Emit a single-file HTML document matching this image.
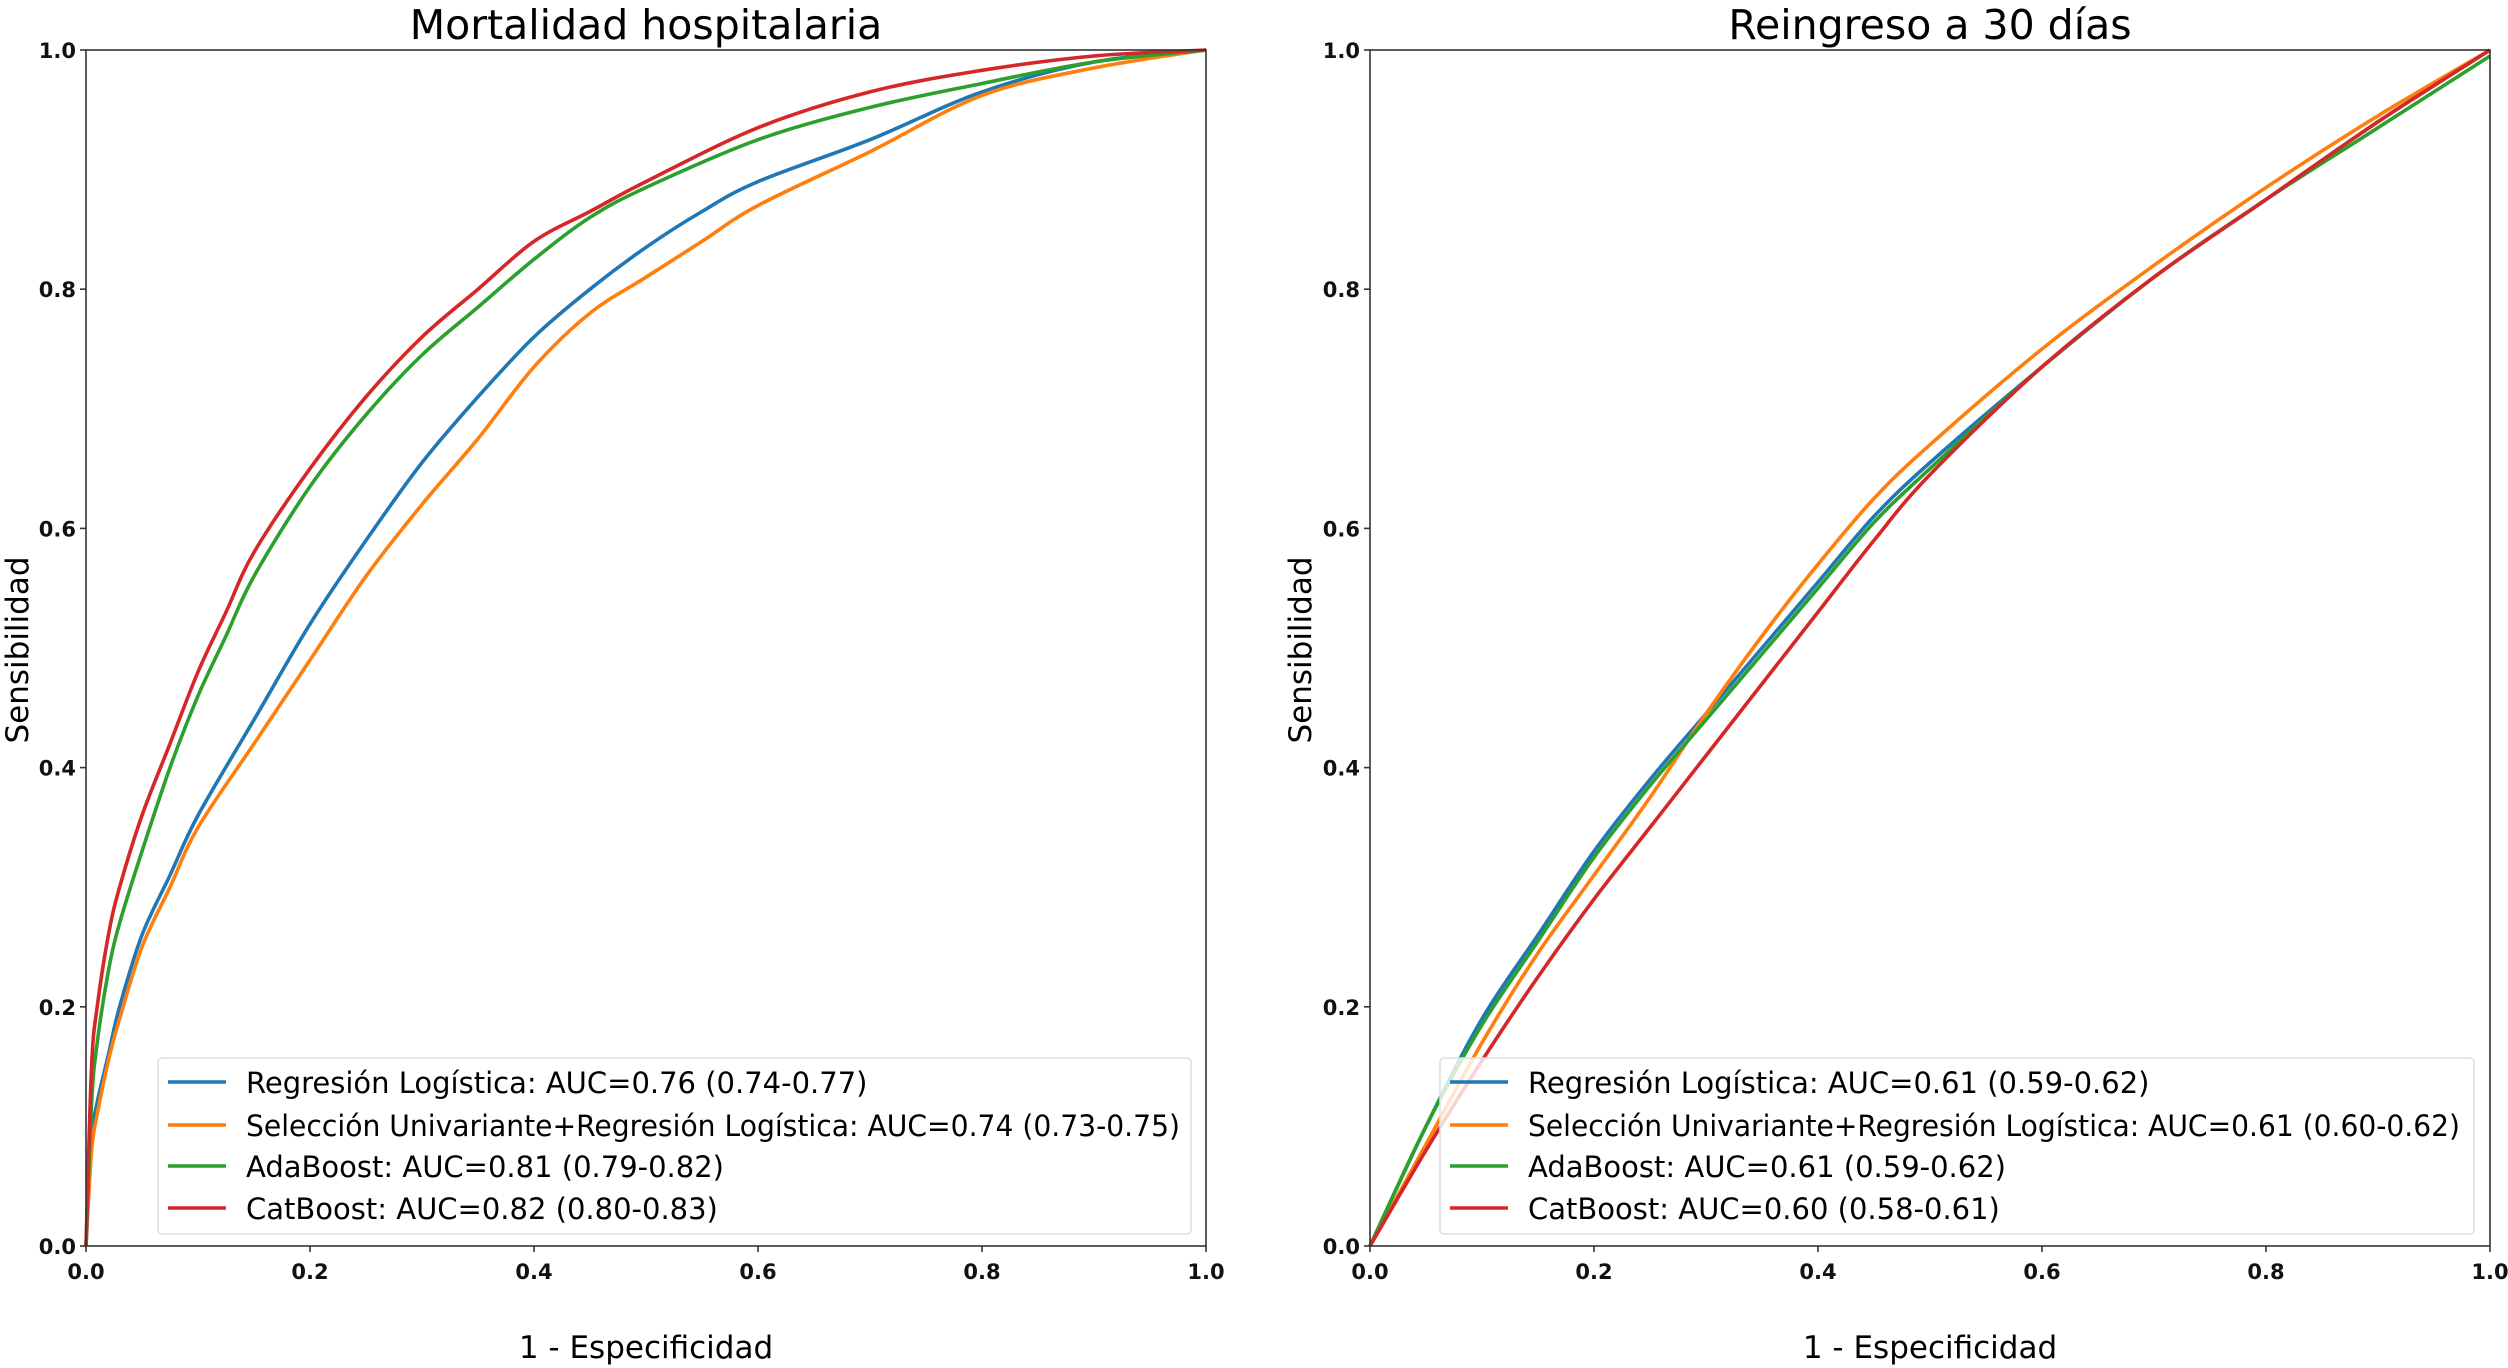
<!DOCTYPE html>
<html><head><meta charset="utf-8"><style>
html,body{margin:0;padding:0;background:#fff;}
svg{display:block;font-family:"DejaVu Sans","Liberation Sans",sans-serif;}
</style></head><body>
<svg id="chart" width="2508" height="1368" viewBox="0 0 2508 1368" xmlns="http://www.w3.org/2000/svg"></svg>
<script>
const ticks = [0, 0.2, 0.4, 0.6, 0.8, 1.0];
const tickLabels = ["0.0", "0.2", "0.4", "0.6", "0.8", "1.0"];
const seriesNames = ["Regresión Logística", "Selección Univariante+Regresión Logística", "AdaBoost", "CatBoost"];
const colors = ["#1f77b4", "#ff7f0e", "#2ca02c", "#d62728"];

const mortLabels = ["Regresión Logística: AUC=0.76 (0.74-0.77)", "Selección Univariante+Regresión Logística: AUC=0.74 (0.73-0.75)", "AdaBoost: AUC=0.81 (0.79-0.82)", "CatBoost: AUC=0.82 (0.80-0.83)"];
const mortBlueX = [0,0.005,0.01,0.02,0.03,0.05,0.075,0.1,0.15,0.2,0.25,0.3,0.35,0.4,0.45,0.5,0.55,0.6,0.7,0.8,0.9,1];
const mortBlueY = [0,0.09,0.12,0.16,0.2,0.26,0.31,0.36,0.44,0.52,0.59,0.655,0.71,0.76,0.8,0.835,0.865,0.89,0.925,0.965,0.99,1];
const mortOrangeX = [0,0.005,0.01,0.02,0.03,0.05,0.075,0.1,0.15,0.2,0.25,0.3,0.35,0.4,0.45,0.5,0.55,0.6,0.7,0.8,0.9,1];
const mortOrangeY = [0,0.08,0.11,0.155,0.19,0.25,0.3,0.35,0.42,0.49,0.56,0.62,0.675,0.735,0.78,0.81,0.84,0.87,0.915,0.962,0.985,1];
const mortGreenX = [0,0.005,0.01,0.02,0.03,0.05,0.075,0.1,0.125,0.15,0.2,0.25,0.3,0.35,0.4,0.45,0.5,0.6,0.7,0.8,0.9,1];
const mortGreenY = [0,0.12,0.17,0.23,0.27,0.33,0.4,0.46,0.51,0.56,0.635,0.695,0.745,0.785,0.825,0.86,0.885,0.925,0.952,0.972,0.99,1];
const mortRedX = [0,0.005,0.01,0.02,0.03,0.05,0.075,0.1,0.125,0.15,0.2,0.25,0.3,0.35,0.4,0.45,0.5,0.6,0.7,0.8,0.9,1];
const mortRedY = [0,0.15,0.2,0.26,0.3,0.36,0.42,0.48,0.53,0.58,0.65,0.71,0.76,0.8,0.84,0.865,0.89,0.935,0.965,0.983,0.995,1];

const readLabels = ["Regresión Logística: AUC=0.61 (0.59-0.62)", "Selección Univariante+Regresión Logística: AUC=0.61 (0.60-0.62)", "AdaBoost: AUC=0.61 (0.59-0.62)", "CatBoost: AUC=0.60 (0.58-0.61)"];
const readX = [0,0.05,0.1,0.15,0.2,0.25,0.3,0.35,0.4,0.45,0.5,0.6,0.7,0.8,0.9,1];
const readBlueY = [0,0.1,0.19,0.26,0.33,0.39,0.445,0.5,0.555,0.61,0.655,0.735,0.81,0.875,0.94,1];
const readOrangeY = [0,0.085,0.17,0.245,0.31,0.375,0.445,0.51,0.57,0.625,0.67,0.75,0.82,0.885,0.945,1];
const readGreenY = [0,0.1,0.185,0.255,0.325,0.385,0.44,0.495,0.55,0.605,0.65,0.735,0.81,0.875,0.935,0.995];
const readRedY = [0,0.08,0.155,0.225,0.29,0.35,0.41,0.47,0.53,0.59,0.645,0.735,0.81,0.875,0.94,1];

const NS = "http://www.w3.org/2000/svg";
const svg = document.getElementById("chart");
function mk(tag, attrs, parent, text) {
  const e = document.createElementNS(NS, tag);
  for (const k in attrs) e.setAttribute(k, attrs[k]);
  if (text !== undefined) e.textContent = text;
  parent.appendChild(e);
  return e;
}
// smooth path via Catmull-Rom
function smoothPath(pts) {
  let d = "M" + pts[0][0].toFixed(1) + " " + pts[0][1].toFixed(1);
  for (let i = 0; i < pts.length - 1; i++) {
    const p0 = pts[Math.max(0, i - 1)], p1 = pts[i], p2 = pts[i + 1], p3 = pts[Math.min(pts.length - 1, i + 2)];
    const c1x = p1[0] + (p2[0] - p0[0]) / 6, c1y = p1[1] + (p2[1] - p0[1]) / 6;
    const c2x = p2[0] - (p3[0] - p1[0]) / 6, c2y = p2[1] - (p3[1] - p1[1]) / 6;
    d += " C" + c1x.toFixed(1) + " " + c1y.toFixed(1) + " " + c2x.toFixed(1) + " " + c2y.toFixed(1) + " " + p2[0].toFixed(1) + " " + p2[1].toFixed(1);
  }
  return d;
}

function panel(cfg) {
  const g = mk("g", {}, svg);
  
  
  const L = cfg.left, R = cfg.right, T = 50, B = 1246;
  const sx = v => L + v * (R - L);
  const sy = v => B - v * (B - T);
  cfg.series.forEach((s, i) => {
    const pts = s.x.map((xv, j) => [sx(xv), sy(s.y[j])]);
    const p = mk("path", {d: smoothPath(pts), fill: "none", stroke: colors[i], "stroke-width": 3.6, "stroke-linejoin": "round"}, g);
    
    
  });
  const fr = mk("rect", {x: L, y: T, width: R - L, height: B - T, fill: "none", stroke: "#333", "stroke-width": 1.6}, g);
  
  
  ticks.forEach((t, i) => {
    mk("line", {x1: sx(t), x2: sx(t), y1: B, y2: B + 6, stroke: "#333", "stroke-width": 1.6}, g);
    const xl = mk("text", {x: sx(t), y: B + 33, "font-size": 21, "font-weight": "bold", "text-anchor": "middle", fill: "#111"}, g, tickLabels[i]);
    
    
    mk("line", {x1: L - 6, x2: L, y1: sy(t), y2: sy(t), stroke: "#333", "stroke-width": 1.6}, g);
    const yl = mk("text", {x: L - 10, y: sy(t) + 8, "font-size": 21, "font-weight": "bold", "text-anchor": "end", fill: "#111"}, g, tickLabels[i]);
    
    
  });
  const tt = mk("text", {x: (L + R) / 2, y: 39, "font-size": 41, "text-anchor": "middle", fill: "#000"}, g, cfg.title);
  
  
  const xt = mk("text", {x: (L + R) / 2, y: 1358, "font-size": 31, "text-anchor": "middle", fill: "#000"}, g, "1 - Especificidad");
  
  
  const yt = mk("text", {x: 0, y: 0, "font-size": 31, "text-anchor": "middle", fill: "#000", transform: "translate(" + (cfg.ylabX) + ",650) rotate(-90)"}, g, "Sensibilidad");
  
  
  const lg = mk("g", {}, g);
  
  
  mk("rect", {x: cfg.lgX, y: 1058, width: cfg.lgW, height: 176, rx: 4, fill: "#fff", "fill-opacity": 0.8, stroke: "#ddd", "stroke-width": 1.5}, lg);
  const rowY = [1082, 1125, 1166, 1208];
  cfg.labels.forEach((lab, i) => {
    const e = mk("g", {}, lg);
    
    
    mk("line", {x1: cfg.lgX + 10, x2: cfg.lgX + 68, y1: rowY[i], y2: rowY[i], stroke: colors[i], "stroke-width": 3.6}, e);
    const attrs = {x: cfg.lgX + 88, y: rowY[i] + 11, "font-size": 29, fill: "#000"};
    if (i === 1) { attrs.textLength = cfg.longW; attrs.lengthAdjust = "spacingAndGlyphs"; }
    mk("text", attrs, e, lab);
  });
}

panel({name: "mortalidad-panel", left: 86, right: 1206, title: "Mortalidad hospitalaria", ylabX: 28, lgX: 158, lgW: 1033, longW: 934, labels: mortLabels,
  series: [{x: mortBlueX, y: mortBlueY}, {x: mortOrangeX, y: mortOrangeY}, {x: mortGreenX, y: mortGreenY}, {x: mortRedX, y: mortRedY}]});
panel({name: "reingreso-panel", left: 1370, right: 2490, title: "Reingreso a 30 días", ylabX: 1311, lgX: 1440, lgW: 1034, longW: 932, labels: readLabels,
  series: [{x: readX, y: readBlueY}, {x: readX, y: readOrangeY}, {x: readX, y: readGreenY}, {x: readX, y: readRedY}]});
</script>
</body></html>
